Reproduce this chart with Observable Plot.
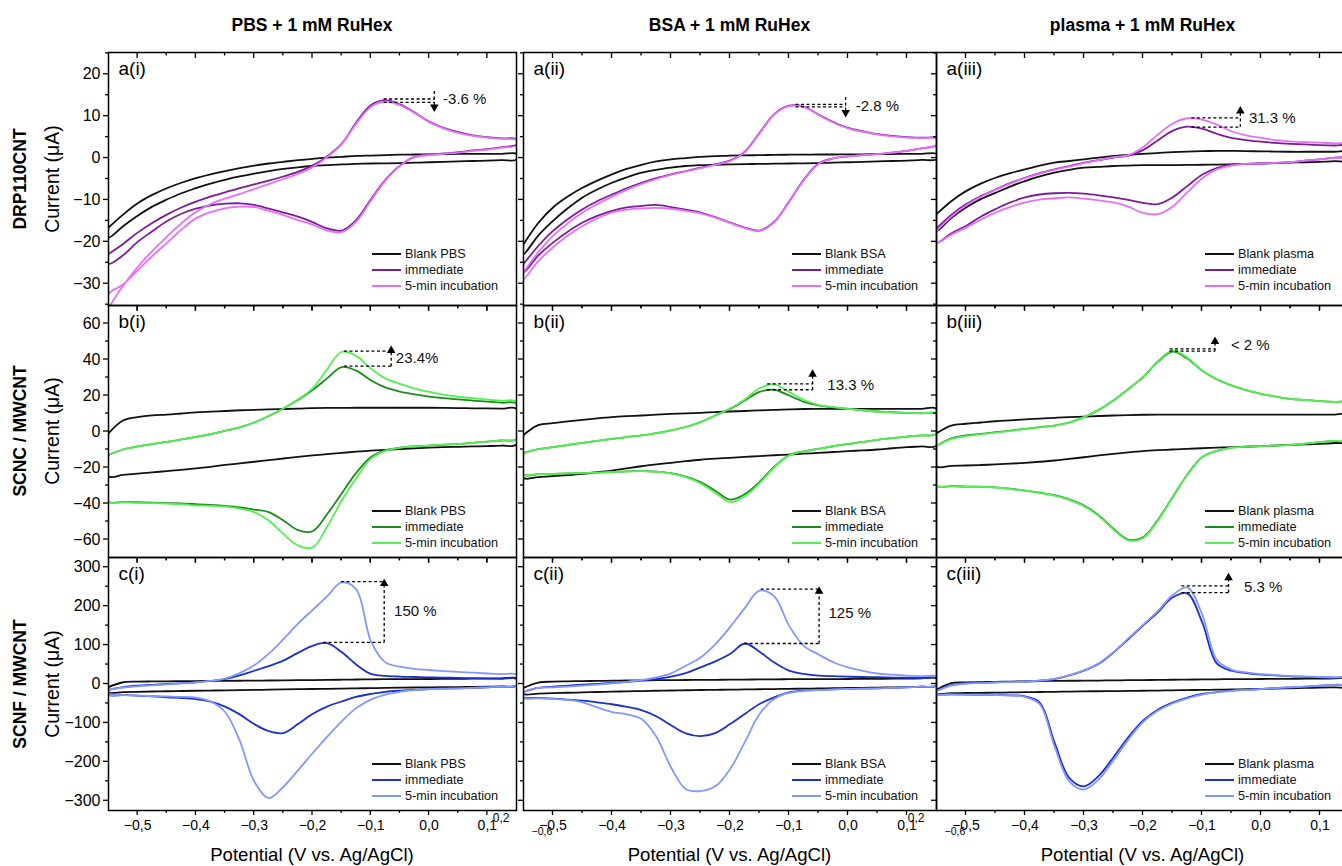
<!DOCTYPE html>
<html><head><meta charset="utf-8">
<script src="https://cdn.jsdelivr.net/npm/d3@7"></script>
<script src="https://cdn.jsdelivr.net/npm/@observablehq/plot@0.6"></script>
<style>
html,body{margin:0;padding:0;background:#fff;overflow:hidden;}
#root{position:relative;width:1342px;height:866px;overflow:hidden;font-family:"Liberation Sans",Arial,sans-serif;color:#000;}
.abs{position:absolute;white-space:nowrap;}
.coltitle{font-weight:bold;font-size:17.5px;transform:translate(-50%,-50%);}
.rowlab{font-weight:bold;font-size:17.5px;transform:translate(-50%,-50%) rotate(-90deg);}
.ylab{font-size:19.5px;transform:translate(-50%,-50%) rotate(-90deg);}
.xlab{font-size:18.6px;transform:translate(-50%,-50%);}
svg{position:absolute;}
</style></head><body><div id="root"></div>
<script>
// Potential grid (V vs Ag/AgCl) shared by all scans
const E = [-0.55,-0.525,-0.5,-0.475,-0.45,-0.425,-0.4,-0.375,-0.35,-0.325,-0.3,-0.275,-0.25,-0.225,-0.2,-0.175,-0.15,-0.125,-0.1,-0.075,-0.05,-0.025,0,0.025,0.05,0.075,0.1,0.125,0.15];

// a(i) DRP110CNT, PBS (µA) — Up: forward scan, Dn: return scan
const aiBlankUp = [-16.6,-13.5,-10.8,-8.8,-7.2,-5.9,-4.8,-3.9,-3.1,-2.4,-1.8,-1.3,-0.9,-0.5,-0.2,0.1,0.3,0.5,0.6,0.7,0.8,0.85,0.9,0.95,1.0,1.0,1.0,1.0,1.0];
const aiBlankDn = [-19.0,-16.3,-13.8,-11.6,-9.9,-8.4,-7.2,-6.1,-5.2,-4.4,-3.7,-3.1,-2.6,-2.2,-1.9,-1.7,-1.5,-1.4,-1.3,-1.25,-1.2,-1.1,-1.0,-0.9,-0.8,-0.7,-0.6,-0.5,-0.4];
const aiImmUp = [-22.9,-20.5,-17.8,-15.5,-13.5,-11.8,-10.4,-9.2,-8.2,-7.2,-6.3,-5.4,-4.4,-3.3,-1.8,0.4,3.4,8.5,12.6,13.8,12.8,10.9,8.7,7.2,6.2,5.4,5.0,4.7,4.5];
const aiImmDn = [-25.3,-23.2,-20.0,-17.5,-15.1,-13.3,-12.1,-11.3,-10.9,-10.8,-11.2,-12.1,-13.0,-14.0,-15.3,-16.8,-17.3,-14.8,-9.9,-5.2,-1.8,0.3,0.8,1.1,1.4,1.8,2.1,2.6,3.2];
const aiFiveUp = [-35.8,-30.5,-26.0,-22.2,-18.8,-15.6,-12.9,-11.0,-9.7,-8.6,-7.4,-6.2,-5.0,-3.8,-2.2,0.2,3.3,8.2,12.2,13.5,12.6,10.8,8.6,7.1,6.0,5.3,4.9,4.6,4.3];
const aiFiveDn = [-32.5,-30.2,-26.8,-23.4,-20.3,-17.1,-14.4,-12.9,-12.0,-11.6,-11.7,-12.6,-13.6,-14.8,-15.9,-17.3,-17.7,-15.2,-10.2,-5.4,-1.9,0.2,0.7,1.0,1.3,1.7,2.0,2.5,3.0];
// a(ii) BSA
const aiiBlankUp = [-20.6,-15.5,-11.8,-9.2,-7.1,-5.4,-3.9,-2.6,-1.6,-0.8,-0.3,0.0,0.3,0.45,0.6,0.65,0.7,0.75,0.8,0.8,0.85,0.85,0.9,0.9,0.95,0.95,1.0,1.0,1.0];
const aiiBlankDn = [-22.9,-18.5,-15.0,-12.0,-9.4,-7.5,-5.9,-4.6,-3.5,-2.8,-2.3,-1.9,-1.7,-1.6,-1.5,-1.45,-1.4,-1.35,-1.3,-1.25,-1.2,-1.1,-1.0,-0.9,-0.8,-0.7,-0.6,-0.45,-0.3];
const aiiImmUp = [-25.3,-21.0,-17.4,-14.6,-12.2,-10.3,-8.7,-7.2,-5.9,-4.8,-3.9,-3.1,-2.3,-1.5,-0.6,1.5,6.0,10.5,12.5,12.3,10.4,8.6,7.2,6.4,5.7,5.3,5.0,4.85,4.7];
const aiiImmDn = [-27.3,-23.3,-20.2,-17.6,-15.4,-13.8,-12.6,-11.8,-11.4,-11.2,-11.7,-12.3,-13.0,-14.1,-15.4,-16.6,-17.3,-15.2,-10.4,-5.2,-1.3,-0.1,0.4,0.7,0.95,1.3,1.7,2.3,3.1];
const aiiFiveUp = [-27.3,-22.5,-18.6,-15.6,-13.0,-11.0,-9.2,-7.6,-6.2,-5.0,-4.0,-3.2,-2.4,-1.6,-0.7,1.4,5.9,10.4,12.4,12.2,10.3,8.5,7.1,6.3,5.6,5.2,4.9,4.75,4.6];
const aiiFiveDn = [-28.9,-24.6,-21.3,-18.5,-16.2,-14.4,-13.0,-12.3,-12.0,-11.9,-12.1,-12.6,-13.2,-14.2,-15.5,-16.7,-17.4,-15.3,-10.5,-5.3,-1.4,-0.1,0.4,0.7,0.95,1.3,1.7,2.3,3.1];
// a(iii) plasma
const aiiiBlankUp = [-13.4,-10.3,-7.9,-6.1,-4.7,-3.6,-2.7,-1.8,-1.1,-0.7,-0.3,0.1,0.5,0.75,1.0,1.2,1.4,1.55,1.65,1.7,1.7,1.65,1.6,1.55,1.5,1.5,1.5,1.5,1.5];
const aiiiBlankDn = [-17.4,-14.3,-11.8,-9.8,-8.3,-6.8,-5.5,-4.4,-3.5,-2.8,-2.3,-2.1,-1.9,-1.8,-1.7,-1.7,-1.7,-1.65,-1.6,-1.55,-1.5,-1.4,-1.3,-1.2,-1.1,-1.0,-0.9,-0.75,-0.6];
const aiiiImmUp = [-16.8,-13.6,-11.0,-9.1,-7.5,-6.0,-4.7,-3.6,-2.7,-1.9,-1.1,-0.5,0.1,0.6,1.9,4.2,6.5,7.5,7.0,5.8,4.8,4.3,3.9,3.6,3.4,3.25,3.1,3.0,2.9];
const aiiiImmDn = [-20.2,-18.0,-16.2,-14.0,-12.2,-10.6,-9.4,-8.7,-8.4,-8.3,-8.5,-8.9,-9.4,-10.0,-10.7,-11.0,-9.4,-6.7,-4.0,-2.4,-1.6,-1.4,-1.3,-1.15,-1.0,-0.6,-0.3,0.1,0.5];
const aiiiFiveUp = [-17.4,-14.0,-11.3,-9.3,-7.6,-6.1,-4.8,-3.7,-2.8,-2.0,-1.2,-0.5,0.2,0.7,2.6,5.6,8.2,9.5,9.2,8.0,6.4,5.4,4.8,4.3,4.0,3.8,3.7,3.5,3.4];
const aiiiFiveDn = [-20.2,-18.3,-16.6,-14.7,-13.0,-11.7,-10.6,-9.9,-9.6,-9.4,-9.7,-10.1,-10.6,-11.6,-13.1,-13.4,-11.6,-8.2,-4.9,-2.7,-1.8,-1.4,-1.3,-1.15,-1.0,-0.6,-0.3,0.1,0.5];

// b(i) SCNC / MWCNT, PBS
const biBlankUp = [-1.0,6.1,8.0,9.0,9.4,10.0,10.6,11.0,11.4,11.8,12.0,12.3,12.5,12.7,13.0,13.1,13.1,13.2,13.2,13.2,13.2,13.2,13.2,13.1,13.0,12.9,12.8,12.7,12.6];
const biBlankDn = [-24.8,-24.1,-23.4,-22.7,-22.0,-21.3,-20.5,-19.6,-18.6,-17.7,-16.8,-15.9,-15.0,-14.1,-13.3,-12.6,-11.9,-11.2,-10.6,-10.2,-9.8,-9.4,-9.0,-8.7,-8.5,-8.3,-8.1,-7.8,-7.2];
const biImmUp = [-13,-10.0,-8.3,-7.0,-5.8,-4.4,-3.0,-1.4,0.4,2.3,5.0,8.6,12.8,17.5,23.0,29.5,35.8,33.8,28.5,24.5,22.2,20.6,19.4,18.5,17.8,17.2,16.6,16.0,15.4];
const biImmDn = [-38.9,-39.1,-39.3,-39.5,-39.8,-40.0,-40.3,-40.8,-41.4,-42.2,-43.4,-44.8,-49.4,-54.8,-55.4,-46.0,-34.4,-23.0,-14.3,-10.5,-8.9,-8.3,-7.8,-7.3,-6.9,-6.3,-5.6,-5.0,-4.1];
const biFiveUp = [-13,-10.0,-8.3,-7.0,-5.8,-4.4,-3.0,-1.4,0.4,2.3,5.0,8.6,12.8,17.8,24.0,34.5,44.3,42.0,35.0,29.5,26.5,24.0,22.0,20.5,19.3,18.5,17.7,17.1,16.6];
const biFiveDn = [-39.0,-39.3,-39.6,-39.8,-40.1,-40.4,-41.1,-41.3,-41.7,-42.8,-44.8,-49.4,-56.9,-63.3,-64.5,-53.0,-38.5,-26.0,-15.2,-10.8,-9.0,-8.3,-7.8,-7.3,-6.9,-6.3,-5.6,-5.0,-4.1];
// b(ii)
const biiBlankUp = [-2,3.5,4.6,5.6,6.5,7.3,8.0,8.5,8.9,9.4,9.8,10.1,10.4,10.8,11.1,11.4,11.7,12.0,12.3,12.5,12.6,12.6,12.6,12.6,12.6,12.6,12.6,12.6,12.6];
const biiBlankDn = [-25.7,-25.3,-24.8,-24.2,-23.5,-22.6,-21.7,-20.5,-19.3,-18.3,-17.4,-16.5,-15.7,-15.1,-14.6,-14.1,-13.7,-13.2,-12.8,-12.3,-11.9,-11.4,-10.9,-10.5,-10.0,-9.3,-8.7,-8.3,-7.8];
const biiImmUp = [-12,-9.8,-8.7,-7.5,-6.3,-5.2,-4.1,-3.1,-2.2,-0.9,0.6,2.5,5.2,8.9,12.5,17.2,22.0,23.2,20.0,16.5,14.5,13.4,12.6,11.8,11.1,10.7,10.4,10.1,9.8];
const biiImmDn = [-23.9,-23.7,-23.5,-23.3,-23.1,-22.8,-22.5,-22.1,-22.0,-22.3,-23.2,-25.1,-28.1,-32.9,-37.8,-34.8,-28.0,-19.6,-13.2,-11.0,-9.6,-8.2,-6.9,-5.8,-4.6,-3.7,-2.8,-2.2,-1.3];
const biiFiveUp = [-12,-9.8,-8.7,-7.5,-6.3,-5.2,-4.1,-3.1,-2.2,-0.9,0.6,2.5,5.2,8.9,12.8,17.8,24.0,26.2,22.0,17.5,14.8,13.5,12.6,11.8,11.1,10.7,10.4,10.1,9.8];
const biiFiveDn = [-23.9,-23.7,-23.5,-23.3,-23.1,-22.8,-22.5,-22.1,-22.0,-22.3,-23.3,-25.3,-28.8,-34.0,-39.2,-36.0,-28.8,-20.0,-13.4,-11.0,-9.6,-8.2,-6.9,-5.8,-4.6,-3.7,-2.8,-2.2,-1.3];
// b(iii)
const biiiBlankUp = [-1,3.3,4.3,5.0,5.7,6.2,6.7,7.2,7.6,8.0,8.3,8.6,8.9,9.1,9.3,9.35,9.4,9.4,9.4,9.4,9.4,9.4,9.4,9.4,9.4,9.4,9.4,9.4,9.4];
const biiiBlankDn = [-19.3,-19.1,-18.9,-18.6,-18.3,-17.9,-17.4,-16.8,-16.1,-15.2,-14.3,-13.3,-12.4,-11.6,-10.9,-10.4,-10.0,-9.6,-9.3,-9.0,-8.7,-8.4,-8.1,-7.8,-7.4,-7.2,-6.9,-6.4,-5.6];
const biiiImmUp = [-8,-3.8,-2.2,-1.3,-0.4,0.5,1.5,2.4,3.3,5.0,8.0,12.0,17.2,23.5,30.2,38.7,44.4,40.5,33.9,29.0,25.6,23.0,20.9,19.4,18.1,17.5,16.9,16.4,15.9];
const biiiImmDn = [-30.0,-30.3,-30.6,-30.7,-31.0,-31.8,-32.8,-34.0,-35.3,-37.7,-41.1,-46.6,-54.0,-60.0,-58.8,-49.2,-36.5,-24.0,-14.3,-10.8,-8.9,-8.4,-8.1,-7.8,-7.4,-6.7,-5.9,-5.2,-4.4];
const biiiFiveUp = [-8,-4.2,-2.6,-1.6,-0.6,0.3,1.3,2.3,3.2,4.9,8.0,12.0,17.2,23.5,30.3,39.0,45.0,41.0,34.0,29.0,25.6,23.0,20.9,19.4,18.1,17.5,16.9,16.4,15.9];
const biiiFiveDn = [-30.0,-30.3,-30.6,-30.8,-31.1,-31.9,-32.9,-34.2,-35.6,-38.0,-41.5,-47.0,-54.5,-60.5,-59.3,-49.6,-36.8,-24.2,-14.4,-10.8,-8.9,-8.4,-8.1,-7.8,-7.4,-6.7,-5.9,-5.2,-4.4];

// c(i) SCNF / MWCNT, PBS
const ciBlankUp = [-8,4.5,6.0,6.5,7.0,7.3,7.6,7.9,8.2,8.4,8.6,9.0,9.4,9.8,10.2,10.6,11.0,11.5,12.0,12.3,12.5,12.7,12.8,13.1,13.4,13.7,14.0,14.3,14.5];
const ciBlankDn = [-21.4,-20.7,-20.0,-19.3,-18.6,-18.0,-17.4,-16.9,-16.4,-15.8,-15.2,-14.6,-14.0,-13.4,-12.8,-12.3,-11.8,-11.2,-10.6,-10.0,-9.5,-9.0,-8.5,-8.2,-7.8,-7.5,-7.0,-6.0,-4.3];
const ciImmUp = [-15,-8,-4.3,-2,0,2,4.3,8,12.8,22,34,46,60,80,98,105,82,50,26,21,19,18,17,16.3,15.6,15,14.3,13.5,12.8];
const ciImmDn = [-27.4,-28.5,-29.9,-31.5,-34,-36,-39,-45,-58,-78,-103,-121,-126,-103,-77,-58,-45,-33,-25.6,-20,-17,-15,-13,-12,-11,-10,-8.5,-7,-4.3];
const ciFiveUp = [-15,-9,-6,-3.5,-1,1.5,4.3,8,14,28,48,78,115,155,190,225,261,243,111,55.6,44.4,39,36,33,31,29,27,25.5,24];
const ciFiveDn = [-27.4,-28.5,-29.9,-31,-32,-33,-35,-45,-72,-145,-250,-293,-264,-222,-178,-136,-96,-62,-40,-27,-20,-16,-13,-12,-11,-10,-8.5,-7,-4.3];
// c(ii)
const ciiBlankUp = [-10,3.5,6.0,6.8,7.4,8.0,8.5,9.0,9.4,9.8,10.1,10.3,10.5,10.8,11.1,11.4,11.7,12.0,12.3,12.5,12.6,12.7,12.8,13.1,13.4,13.7,14.0,14.3,14.5];
const ciiBlankDn = [-25.6,-24.5,-23.5,-22.5,-21.5,-20.6,-19.7,-18.9,-18.1,-17.4,-16.7,-16.0,-15.4,-15.0,-14.5,-14.0,-13.5,-13.0,-12.5,-12.0,-11.5,-10.9,-10.3,-9.8,-9.2,-8.6,-8.0,-7.0,-4.3];
const ciiImmUp = [-20,-10,-6.8,-4.0,-1.7,0.5,2.6,5.2,8.5,13,18.8,28,42.7,58,77,104,83,55,34.5,26,21.5,20,18.8,18,17.3,16.6,16,15.2,14.5];
const ciiImmDn = [-34.2,-35.5,-37.5,-40,-42.7,-47,-52,-59,-67,-83,-106,-127,-134,-126,-103,-77,-51.3,-34.2,-21.4,-17,-15.4,-14,-12.8,-12,-11.1,-10,-8.5,-7,-4.3];
const ciiFiveUp = [-20,-10,-8.5,-6.5,-4.3,-1.5,1.7,5.5,10.3,17,27.4,47,68,102,146,195,240,225,150,98,76,56,43,34,27,24,21.5,20,18.8];
const ciiFiveDn = [-35.9,-37,-38.5,-41,-47,-60,-72,-78,-90,-135,-214,-270,-275,-263,-219,-150,-77,-38.5,-23,-18,-15.4,-14,-12.8,-12,-11.1,-10,-8.5,-7,-4.3];
// c(iii)
const ciiiBlankUp = [-15,2.5,4.3,5.0,5.6,6.2,6.8,7.4,8.0,8.3,8.5,8.9,9.3,9.7,10.1,10.5,10.9,11.3,11.7,12.1,12.4,12.6,12.8,13.1,13.4,13.7,14.0,14.3,14.5];
const ciiiBlankDn = [-23.9,-23.5,-23.1,-22.7,-22.2,-21.7,-21.1,-20.6,-20.0,-19.4,-18.8,-18.6,-18.3,-17.8,-17.3,-16.8,-16.2,-15.7,-15.2,-14.6,-14.0,-13.4,-12.8,-11.9,-11.0,-10.2,-9.3,-8.5,-8.0];
const ciiiImmUp = [-18,-3,1.7,3.0,4.3,5.2,6.0,8.5,12.8,22,34.2,52,81,115,150,184,222,233,160,53,34,28,24,22,19.7,18.5,17.1,16.2,15.4];
const ciiiImmDn = [-25.6,-26.5,-27.4,-27.8,-28.2,-29,-32,-48,-150,-241,-263,-236,-188,-137,-94,-66,-48,-35,-25.6,-21,-17.1,-15,-12.8,-10.5,-8.5,-6.5,-4.3,-2,0];
const ciiiFiveUp = [-18,-4,1.0,2.5,3.8,4.8,5.8,8.5,13,22.5,35,53,82,117,152,187,228,248,180,62,37,30,25.5,23,20.5,19.3,18,17,16.2];
const ciiiFiveDn = [-25.6,-26.5,-27.4,-27.8,-28.3,-29.2,-33,-52,-160,-250,-271,-245,-196,-143,-98,-69,-50,-37,-27,-21.5,-17.5,-15.2,-13,-10.6,-8.6,-6.6,-4.4,-2,0];

// Labels and ticks
const colTitles = ["PBS + 1 mM RuHex", "BSA + 1 mM RuHex", "plasma + 1 mM RuHex"];
const rowNames = ["DRP110CNT", "SCNC / MWCNT", "SCNF / MWCNT"];
const panelTags = ["a(i)","a(ii)","a(iii)","b(i)","b(ii)","b(iii)","c(i)","c(ii)","c(iii)"];
const blankNames = ["Blank PBS", "Blank BSA", "Blank plasma"];
const seriesNames = ["immediate", "5-min incubation"];
const xMajor = [-0.5,-0.4,-0.3,-0.2,-0.1,0,0.1];
const xMinor = [-0.45,-0.35,-0.25,-0.15,-0.05,0.05];
const yMajor = [[-30,-20,-10,0,10,20],[-60,-40,-20,0,20,40,60],[-300,-200,-100,0,100,200,300]];
const yMinor = [[-35,-25,-15,-5,5,15,25],[-50,-30,-10,10,30,50],[-250,-150,-50,50,150,250]];
const yDomains = [[-35.2,25.2],[-70,70],[-325,325]];
const xDomain = [-0.55, 0.15];

// Annotations (row-major panel order)
const annTopY = [14.1, 12.8, 9.6, 44.6, 26.5, 45.9, 263, 243.6, 252];
const annLowY = [13.3, 12.2, 7.4, 36.3, 23.2, 44.6, 106.8, 104, 235];
const annTopX1 = [-0.078, -0.089, -0.118, -0.146, -0.137, -0.155, -0.151, -0.148, -0.135];
const annLowX1 = [-0.078, -0.089, -0.118, -0.146, -0.137, -0.155, -0.182, -0.176, -0.135];
const annX2 = [0.009, -0.004, -0.035, -0.065, -0.060, -0.078, -0.077, -0.049, -0.055];
const annArrowFrom = [16.0, 14.6, 7.4, 36.3, 23.2, 44.6, 106.8, 104, 235];
const annArrowTo = [11.7, 10.4, 11.7, 46.1, 32.9, 51.1, 263, 243.6, 278];
const annLabel = ["-3.6 %", "-2.8 %", "31.3 %", "23.4%", "13.3 %", "< 2 %", "150 %", "125 %", "5.3 %"];
const annLabelX = [0.024, 0.013, -0.0205, -0.057, -0.035, -0.051, -0.060, -0.033, -0.029];
const annLabelY = [14.0, 12.5, 9.5, 40.6, 25.6, 47.8, 188, 183, 249];

// Styles
const colorBlank = "#111111";
const colorsImm = ["#7a1d96", "#1b8c1b", "#1c2fcf"];
const colorsFive = ["#e46ff8", "#55ee55", "#8497ff"];
const colLeft = [108, 523, 936], colW = [408, 413, 413];
const rowTop = [52, 305, 557], rowH = [253, 252, 253];

const panels = [
  [[aiBlankUp,aiBlankDn,aiImmUp,aiImmDn,aiFiveUp,aiFiveDn],[aiiBlankUp,aiiBlankDn,aiiImmUp,aiiImmDn,aiiFiveUp,aiiFiveDn],[aiiiBlankUp,aiiiBlankDn,aiiiImmUp,aiiiImmDn,aiiiFiveUp,aiiiFiveDn]],
  [[biBlankUp,biBlankDn,biImmUp,biImmDn,biFiveUp,biFiveDn],[biiBlankUp,biiBlankDn,biiImmUp,biiImmDn,biiFiveUp,biiFiveDn],[biiiBlankUp,biiiBlankDn,biiiImmUp,biiiImmDn,biiiFiveUp,biiiFiveDn]],
  [[ciBlankUp,ciBlankDn,ciImmUp,ciImmDn,ciFiveUp,ciFiveDn],[ciiBlankUp,ciiBlankDn,ciiImmUp,ciiImmDn,ciiFiveUp,ciiFiveDn],[ciiiBlankUp,ciiiBlankDn,ciiiImmUp,ciiiImmDn,ciiiFiveUp,ciiiFiveDn]]
];
panels.flat(2).forEach((a, i) => { if (a.length !== E.length) throw new Error("bad length at " + i + ": " + a.length); });

const fmtY = d => (d < 0 ? "\u2212" + (-d) : String(d));
const fmtX = d => (d < 0 ? "\u2212" : "") + Math.abs(d).toFixed(1).replace(".", ",");

function loop(up, dn) {
  const pts = E.map((e, i) => ({E: e, I: up[i]}));
  for (let i = E.length - 1; i >= 0; i--) pts.push({E: E[i], I: dn[i]});
  pts.push({E: E[0], I: up[0]});
  return pts;
}

function ticksMark(r) {
  return (index, scales, values, dims) => {
    const g = d3.create("svg:g").attr("stroke", "black").attr("stroke-width", 1.3);
    const x = scales.x, y = scales.y;
    const top = dims.marginTop, bottom = dims.height - dims.marginBottom, left = dims.marginLeft;
    const add = (x1, y1, x2, y2) => g.append("line").attr("x1", x1).attr("y1", y1).attr("x2", x2).attr("y2", y2);
    xMajor.forEach(v => { const p = x(v); add(p, top, p, top + 6); add(p, bottom, p, bottom + 5); });
    xMinor.forEach(v => { const p = x(v); add(p, top, p, top + 3.5); add(p, bottom, p, bottom + 3); });
    yMajor[r].forEach(v => { const p = y(v); add(left - 5, p, left, p); });
    yMinor[r].forEach(v => { const p = y(v); add(left - 3, p, left, p); });
    return g.node();
  };
}

function legendMark(items, offs) {
  return (index, scales, values, dims) => {
    const g = d3.create("svg:g");
    const right = dims.width - dims.marginRight, bottom = dims.height - dims.marginBottom;
    items.forEach((it, i) => {
      const yy = bottom - offs[i];
      g.append("line").attr("x1", right - 144).attr("x2", right - 115).attr("y1", yy).attr("y2", yy)
        .attr("stroke", it.color).attr("stroke-width", 2);
      g.append("text").attr("x", right - 111).attr("y", yy).attr("dy", "0.35em")
        .attr("text-anchor", "start").attr("font-size", 12.7).attr("fill", "#111").text(it.name);
    });
    return g.node();
  };
}

const root = document.getElementById("root");
function addText(cls, txt, x, y) {
  const d = document.createElement("div");
  d.className = "abs " + cls; d.textContent = txt;
  d.style.left = x + "px"; d.style.top = y + "px";
  root.appendChild(d);
}

const rowCenters = [178.5, 431, 683.5];
const colCenters = [312, 729.5, 1142.5];
colTitles.forEach((t, c) => addText("coltitle", t, colCenters[c], 25));
rowNames.forEach((t, r) => { addText("rowlab", t, 20, rowCenters[r]); addText("ylab", "Current (\u03bcA)", 52, rowCenters[r]); });
colCenters.forEach(cx => addText("xlab", "Potential (V vs. Ag/AgCl)", cx, 855));

for (let r = 0; r < 3; r++) {
  for (let c = 0; c < 3; c++) {
    const k = r * 3 + c;
    const mL = c === 0 ? 100 : 30, mR = 30, mT = 30, mB = r === 2 ? 45 : 30;
    const W = colW[c], H = rowH[r];
    const arr = panels[r][c];
    const curves = [[arr[0], arr[1], colorBlank], [arr[2], arr[3], colorsImm[r]], [arr[4], arr[5], colorsFive[r]]];
    const marks = curves.map(([up, dn, col]) =>
      Plot.line(loop(up, dn), {x: "E", y: "I", stroke: col, strokeWidth: 1.8, curve: "catmull-rom", clip: true}));
    marks.push(Plot.frame({stroke: "black", strokeWidth: 1.5}));
    marks.push(ticksMark(r));
    if (c === 0) marks.push(Plot.axisY({ticks: yMajor[r], tickSize: 0, tickPadding: 8, tickFormat: fmtY, fontSize: 16, label: null}));
    if (r === 2) marks.push(Plot.axisX({ticks: xMajor, tickSize: 0, tickPadding: 10, tickFormat: fmtX, fontSize: 14, label: null}));
    marks.push(Plot.text([panelTags[k]], {text: d => d, frameAnchor: "top-left", dx: 10, dy: 9, lineAnchor: "top", textAnchor: "start", fontSize: 19}));
    // annotation
    const dash = "3,2.5";
    marks.push(Plot.link([
      {x1: annTopX1[k], x2: annX2[k], y1: annTopY[k], y2: annTopY[k]},
      {x1: annLowX1[k], x2: annX2[k], y1: annLowY[k], y2: annLowY[k]},
      {x1: annX2[k], x2: annX2[k], y1: annArrowFrom[k], y2: annArrowTo[k]}
    ], {x1: "x1", x2: "x2", y1: "y1", y2: "y2", stroke: "black", strokeWidth: 1.3, strokeDasharray: dash}));
    const down = annArrowTo[k] < annArrowFrom[k];
    marks.push(Plot.dot([{x: annX2[k], y: annArrowTo[k]}], {x: "x", y: "y", symbol: "triangle", r: 3.2, fill: "black", stroke: "none", rotate: down ? 180 : 0, dy: down ? -2 : 2}));
    marks.push(Plot.text([{x: annLabelX[k], y: annLabelY[k], t: annLabel[k]}], {x: "x", y: "y", text: "t", textAnchor: "start", fontSize: 15, fill: "#111"}));
    // legend
    const offs = r === 0 ? [51, 35, 19] : [46, 30, 14];
    marks.push(legendMark([{name: blankNames[c], color: colorBlank}, {name: seriesNames[0], color: colorsImm[r]}, {name: seriesNames[1], color: colorsFive[r]}], offs));
    // stray axis labels of the original figure
    if (r === 2) {
      if (c < 2) marks.push(Plot.text(["0,2"], {text: d => d, frameAnchor: "bottom-right", dx: c === 0 ? -7 : -12, dy: 8, lineAnchor: "middle", fontSize: 12}));
      if (c > 0) marks.push(Plot.text(["\u22120,6"], {text: d => d, frameAnchor: "bottom-left", dx: 8, dy: 21, lineAnchor: "middle", fontSize: 10.5}));
    }
    const svg = Plot.plot({
      width: W + mL + mR, height: H + mT + mB,
      marginLeft: mL, marginRight: mR, marginTop: mT, marginBottom: mB,
      x: {domain: xDomain, axis: r === 2 ? undefined : null},
      y: {domain: yDomains[r], axis: c === 0 ? undefined : null},
      style: {background: "transparent", overflow: "visible", fontFamily: "'Liberation Sans', Arial, sans-serif", fontSize: "14px", color: "black"},
      marks
    });
    svg.style.left = (colLeft[c] - mL) + "px";
    svg.style.top = (rowTop[r] - mT) + "px";
    svg.style.maxWidth = "none";
    root.appendChild(svg);
  }
}
</script></body></html>
